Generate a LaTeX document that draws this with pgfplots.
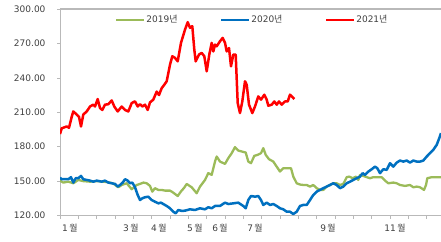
\documentclass[border=0pt]{standalone}
\usepackage{fontspec}
\setmainfont{DejaVu Sans}
\newfontfamily\kr{Noto Sans CJK KR}
\usepackage{pgfplots}
\pgfplotsset{compat=1.18}
\definecolor{cgreen}{RGB}{155,187,89}
\definecolor{cblue}{RGB}{0,112,192}
\definecolor{cred}{RGB}{255,0,0}
\definecolor{txt}{RGB}{64,64,64}
\definecolor{axl}{RGB}{185,185,185}
\newcommand\wol{{\kr 월}}
\newcommand\nyeon{{\kr 년}}
\begin{document}
\begin{tikzpicture}
\begin{axis}[
  name=ax,
  scale only axis, width=381pt, height=206.5pt,
  xmin=0, xmax=381, ymin=120, ymax=300,
  axis x line*=bottom, axis y line*=left,
  axis line style={axl, line width=0.9pt},
  xtick={0,18.33,...,370}, xticklabels={},
  xtick pos=bottom, ytick pos=left,
  tick align=outside, major tick length=3pt,
  tick style={axl, line width=0.6pt},
  ytick={120,150,...,300},
  yticklabel style={font=\fontsize{9}{10}\selectfont, text=txt, xshift=-8pt,
    /pgf/number format/.cd, fixed, fixed zerofill, precision=2, assume math mode=true},
  extra x ticks={10,71,99,135,160,195,268,335},
  extra x tick labels={1\,\wol,3\,\wol,4\,\wol,5\,\wol,6\,\wol,7\,\wol,9\,\wol,11\,\wol},
  extra x tick style={major tick length=0pt, tick label style={font=\fontsize{9}{10}\selectfont, text=txt, yshift=-5pt}},
  legend style={draw=none, fill=none, at={(0.504,0.947)}, anchor=center,
    font=\fontsize{9}{10}\selectfont, text=txt,
    /tikz/every even column/.append style={column sep=42pt},
    nodes={inner sep=1pt}},
  legend columns=3,
  legend image code/.code={\draw[#1, line width=1.8pt] (0pt,0pt) -- (28pt,0pt);},
]
\addplot[cgreen, line width=2.3pt, line join=round] coordinates {
(0,150.4)(3.3,148.7)(8.3,149.5)(13.3,148.1)(18.3,151)(23,150)(30,149.5)(37,150)(43,149.5)(48,149)(53,148)
(58.3,144.6)(61.7,146.6)(66.7,148.1)(71.7,142.9)(76.7,146.6)(80,147.5)(83.3,148.7)(86.7,148.1)(90,145.8)
(92.3,140.8)(95,143.8)(98.3,142.3)(101.7,142.3)(105,141.7)(110,141.7)(113.3,139.9)(117.7,137)(121,141)
(124,144)(126.7,147.5)(131.7,144.6)(136.7,139.4)(140,145.2)(145,151)(148.3,156.9)(151.7,155.4)(155,167)
(156.7,171.4)(160,167)(165,165)(168.3,170)(171.7,174.3)(175,179.6)(178.3,176.6)(181.7,175.8)(185.7,174.9)
(188.3,167)(191,165.6)(194.3,172)(197.7,172.9)(201,174.3)(203.3,178.7)(205.7,172.9)(209,169.1)(213.3,167)
(216.7,162.6)(220,158.3)(223.3,161.2)(227.7,161.2)(231,161.2)(233.3,153.9)(236.7,148.1)(240,147)
(243.3,146.6)(246.7,146.6)(250,145.2)(253.3,146.6)(256.7,143.8)(260,142.3)(263.3,142.3)(266.7,145.2)
(270,146.6)(273.3,148.1)(276.7,148.1)(280,146.6)(283.3,147.5)(286.7,153.4)(289.3,153.9)(292.7,152.5)
(296,153.9)(298.3,151)(300,155.4)(303.3,154.5)(306.7,153.4)(310,152.5)(313.3,153.4)(318.3,153.4)
(321.7,153.4)(325,150.4)(328.3,148.1)(333.3,148.7)(336.7,148.1)(340,146.6)(345,145.8)(350,146.6)
(353.3,144.6)(356.7,145.2)(360,144.6)(364,142.3)(366,146.6)(367.3,152.5)(371.7,153.4)(376.7,153.4)(381,153.4)
};
\addlegendentry{2019\nyeon}
\addplot[cblue, line width=2.5pt, line join=round] coordinates {
(0,153)(1.7,151.6)(5,151.6)(8.3,151.6)(11,153.4)(13.3,148.7)(15.7,152.5)(18.3,152.5)(21,154.5)(23.3,151.6)
(26.7,151)(30,150.4)(33.3,149.5)(36.7,150.4)(41.7,149.5)(45,150.4)(48.3,148.7)(51.7,148.1)(55,147.5)
(57.7,145.2)(60,146.6)(62.7,148.7)(65,151.6)(67.7,150.4)(70,148.1)(72.3,148.7)(75,144.6)(77.7,137.9)
(80,133.5)(82.3,135)(85,135.9)(88.3,136.4)(91.7,133.5)(95,132)(98.3,130.6)(101,131.2)(103.3,130)
(106.7,128.3)(110,126.3)(113.3,123.3)(115.7,121.9)(118.3,124.8)(121.7,124)(125,124.2)(130,125.4)
(135,124.8)(140,126.3)(145,125.4)(148.3,127.2)(151.7,126.3)(155,128.3)(160,128.3)(165,131.2)(168.3,130)
(173.3,130.6)(178.3,131.2)(183.3,128.3)(185.7,126.3)(188.3,133.5)(191,137)(195,136.4)(198.3,137)
(201,133.5)(203.3,129.2)(206.7,131.2)(210,129.2)(213.3,130)(216.7,128.3)(220,126.3)(223.3,125.4)
(226.7,123.3)(230,123.3)(233.3,121.3)(236.7,123.3)(240,128.3)(243.3,129.2)(246.7,129.2)(250,133.5)
(253.3,137.9)(256.7,140.8)(260,142.3)(263.3,143.8)(266.7,145.2)(270,146.6)(273.3,148.1)(276.7,146.6)
(280,143.8)(283.3,145.2)(286.7,148.1)(290,149.5)(293.3,151)(296.7,152.5)(300,153.9)(302.7,156.9)
(305,155.4)(308.3,158.3)(311.7,160.3)(315,162.6)(317.3,161.2)(320,156.9)(323.3,160.3)(326.7,159.8)
(330,165.6)(333.3,162.6)(336.7,166.1)(340,167.9)(343.3,167)(346.7,167.9)(350,166.1)(353.3,167.9)
(356.7,167)(360,167)(363.3,167.9)(366.7,171.4)(370,174.3)(373.3,177.2)(376.7,181.6)(379.3,187.5)(381,191.8)
};
\addlegendentry{2020\nyeon}
\addplot[cred, line width=2.5pt, line join=round] coordinates {
(0,191)(1.7,196)(6.7,197.6)(9,196.5)(11.7,206)(13.3,210.7)(16.7,208)(19,206)(21,197.6)(23.3,208)
(26.7,210.7)(30,215)(33.3,216.6)(35,215)(37.7,221.5)(40,213.7)(42.3,212)(45,216.6)(48.3,217)(51.7,220.3)
(54.3,215)(57.7,210.7)(61.7,215)(65,212)(68.3,210.7)(71.7,218)(75,219.5)(77.7,215)(80,217)(82.3,215)
(85,216.6)(87.7,212)(90,218.6)(93.3,221)(96.7,228)(99,225)(101.7,231)(104.3,234)(106.7,237)(110,251.5)
(112.3,258.8)(115,257.4)(117.7,254.4)(121,270.5)(125,282)(127.7,288.5)(130,283.6)(132.3,285)(134.3,264.6)
(135.7,254.4)(139,260.3)(141.7,261.7)(144.3,258.8)(146.7,245.7)(149.3,260.3)(151.7,270.5)(153.3,263)
(155,269)(156.7,267.5)(160,271.9)(162.7,274.8)(165,270.5)(166.7,263)(169,266)(171,250)(173.3,260.3)
(175.7,260.3)(177.7,218)(180,209.3)(182.3,219.4)(185,237)(186.7,234)(189,216.6)(192.3,209.3)(195,215)
(198.3,223.8)(201,221)(204.3,225.3)(206.7,221)(208.3,215.7)(211.7,216.6)(214.3,219.4)(216.7,216.6)
(219,219.4)(221.7,216.6)(225,219.4)(227.7,219.4)(230,225.3)(232.3,223.3)(234.3,221.5)
};
\addlegendentry{2021\nyeon}
\end{axis}
\draw[axl, line width=1.2pt] (0pt,206.5pt) -- (381pt,206.5pt);
\pgfresetboundingbox
\path (-60pt,-25.5pt) rectangle (381pt,215.5pt);
\end{tikzpicture}
\end{document}
